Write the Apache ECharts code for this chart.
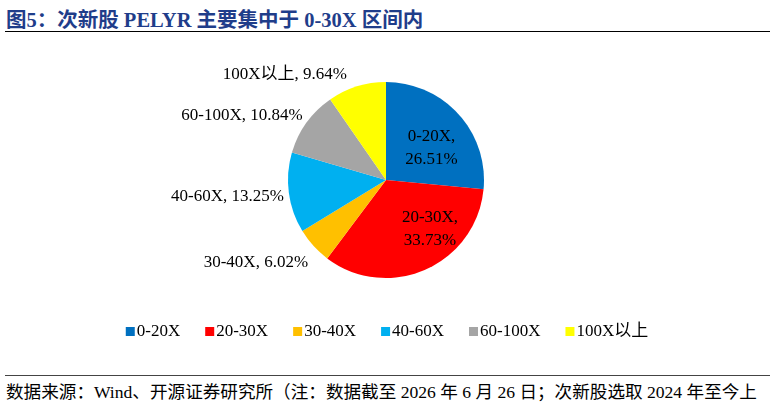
<!DOCTYPE html>
<html>
<head>
<meta charset="utf-8" />
<style>
html,body{margin:0;padding:0;background:#fff}
#wrap{position:relative;width:774px;height:405px;font-family:"Liberation Serif","Noto Sans CJK SC",serif}
#title{position:absolute;left:6px;top:3px;font-size:20.5px;font-weight:bold;color:#1f3d8a;white-space:nowrap}
#rule1{position:absolute;left:5px;width:765px;top:31px;border-top:1.5px solid #000}
#rule2{position:absolute;left:5px;width:765px;top:375px;border-top:1.5px solid #444}
#src{position:absolute;left:6px;top:378px;font-size:17.6px;color:#000;white-space:nowrap}
#chart{position:absolute;left:0;top:35px;width:774px;height:330px}
</style>
<script src="https://cdn.jsdelivr.net/npm/echarts@6/dist/echarts.min.js"></script>
</head>
<body>
<div id="wrap">
  <div id="title">图5：次新股 PELYR 主要集中于 0-30X 区间内</div>
  <div id="rule1"></div>
  <div id="chart"></div>
  <div id="rule2"></div>
  <div id="src">数据来源：Wind、开源证券研究所（注：数据截至 2026 年 6 月 26 日；次新股选取 2024 年至今上</div>
</div>
<script>
const categories = ["0-20X", "20-30X", "30-40X", "40-60X", "60-100X", "100X以上"];
const shares = [26.51, 33.73, 6.02, 13.25, 10.84, 9.64];
const colors = ["#0070C0", "#FF0000", "#FFC000", "#00B0F0", "#A5A5A5", "#FFFF00"];
const insideLabels = ["0-20X", "20-30X"];
// label nudges relative to ECharts' default positions
const labelOffsets = {
  "0-20X": [7, 3],
  "20-30X": [23, 1],
  "30-40X": [4, 13],
  "40-60X": [6, 3],
  "60-100X": [6, -4],
  "100X以上": [-3, -6]
};

const chart = echarts.init(document.getElementById("chart"), null, { renderer: "canvas" });
const font = '"Liberation Serif","Noto Sans CJK SC",serif';

chart.setOption({
  animation: false,
  textStyle: { fontFamily: font },
  legend: {
    bottom: 20,
    left: "center",
    itemWidth: 9,
    itemHeight: 9,
    itemGap: 25,
    icon: "rect",
    textStyle: { fontSize: 17, color: "#000", fontFamily: font, padding: [0, 0, 0, -3] },
    data: categories
  },
  series: [{
    type: "pie",
    center: [386, 145],
    radius: [0, 98],
    startAngle: 90,
    clockwise: true,
    avoidLabelOverlap: false,
    labelLine: { show: false, length: 6, length2: 0 },
    label: {
      fontSize: 17,
      color: "#000",
      fontFamily: font,
      formatter: (p) => p.name + ", " + p.value.toFixed(2) + "%"
    },
    data: categories.map((c, i) => {
      const d = {
        name: c,
        value: shares[i],
        itemStyle: { color: colors[i] },
        label: { offset: labelOffsets[c] }
      };
      if (insideLabels.includes(c)) {
        d.label.position = "inside";
        d.label.lineHeight = 23;
        d.label.formatter = (p) => p.name + ",\n" + p.value.toFixed(2) + "%";
      }
      return d;
    })
  }]
});
</script>
</body>
</html>
